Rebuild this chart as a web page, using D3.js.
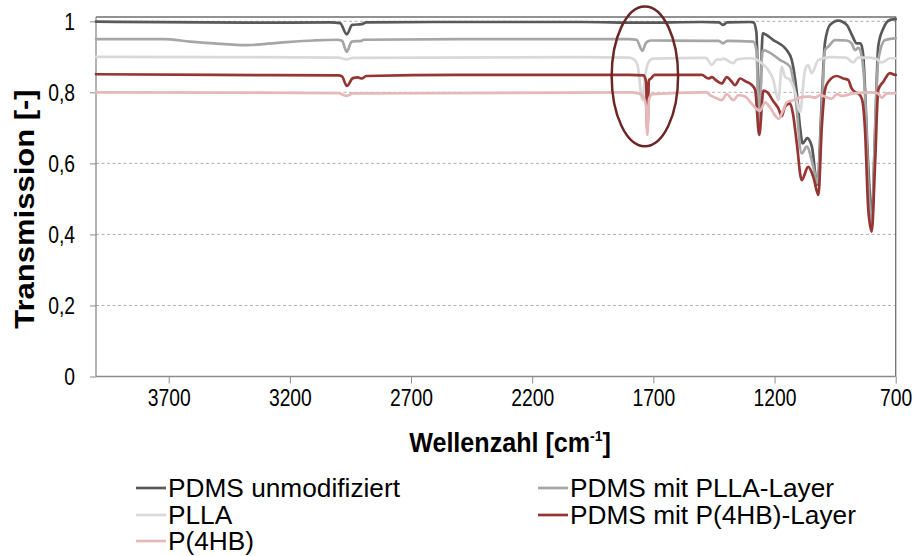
<!DOCTYPE html>
<html><head><meta charset="utf-8">
<script src="https://cdn.jsdelivr.net/npm/d3@7"></script>
<style>
html,body{margin:0;padding:0;background:#fff;}
text{font-family:"Liberation Sans",Arial,sans-serif;fill:#000;}
</style></head>
<body><svg id="chart" width="917" height="556"></svg>
<script>
// ---------- data (wavenumber [cm-1], transmission) ----------
const seriesNames = ["PDMS unmodifiziert","PDMS mit PLLA-Layer","PLLA","PDMS mit P(4HB)-Layer","P(4HB)"];
const seriesColors = ["#595959","#a6a6a6","#d9d9d9","#963634","#e6b9b8"];
const xTicks = [3700,3200,2700,2200,1700,1200,700];
const yTicks = [0,0.2,0.4,0.6,0.8,1];
const yTickLabels = ["0","0,2","0,4","0,6","0,8","1"];

const pdmsUnmod = [
 [4000,0.999],[3376,0.996],[3034,0.997],[2993,0.995],[2965,0.963],[2943,0.99],[2903,0.992],[2885,0.997],
 [2600,0.998],[2000,0.998],[1750,0.996],[1500,0.998],[1430,0.997],[1413,0.99],[1395,0.997],[1300,0.998],
 [1287,0.997],[1275,0.97],[1263,0.72],[1252,0.93],[1249,0.966],[1205,0.947],[1150,0.919],[1129,0.891],
 [1108,0.798],[1095,0.703],[1084,0.656],[1065,0.671],[1046,0.647],[1023,0.54],[1005,0.778],[992,0.939],
 [971,0.99],[937,1.002],[902,0.99],[881,0.962],[861,0.938],[845,0.938],[835,0.91],[813,0.59],[799,0.45],
 [785,0.685],[772,0.93],[751,0.98],[723,1.004],[700,1.006]
];
const pdmsPlla = [
 [4000,0.95],[3721,0.95],[3611,0.943],[3515,0.938],[3377,0.933],[3240,0.94],[3103,0.946],[3006,0.948],
 [2985,0.945],[2965,0.914],[2945,0.943],[2903,0.945],[2896,0.948],[2500,0.95],[1800,0.95],[1770,0.948],
 [1745,0.917],[1730,0.94],[1710,0.946],[1500,0.945],[1430,0.945],[1413,0.938],[1395,0.945],[1288,0.943],
 [1275,0.92],[1263,0.70],[1252,0.90],[1247,0.919],[1177,0.891],[1136,0.872],[1115,0.797],[1088,0.628],
 [1067,0.647],[1040,0.59],[1023,0.544],[1005,0.75],[992,0.919],[978,0.929],[950,0.947],[902,0.946],
 [882,0.938],[868,0.919],[854,0.925],[840,0.9],[827,0.80],[813,0.55],[799,0.42],[785,0.70],[772,0.891],
 [744,0.947],[703,0.952],[700,0.952]
];
const plla = [
 [4000,0.90],[3000,0.898],[2965,0.893],[2940,0.897],[2000,0.899],[1800,0.898],[1780,0.893],[1765,0.875],
 [1745,0.778],[1735,0.84],[1720,0.885],[1700,0.895],[1500,0.897],[1483,0.897],[1459,0.877],[1438,0.893],
 [1425,0.892],[1410,0.895],[1382,0.885],[1370,0.882],[1355,0.893],[1301,0.896],[1280,0.894],[1253,0.882],
 [1226,0.863],[1205,0.835],[1184,0.778],[1170,0.872],[1157,0.844],[1136,0.835],[1115,0.80],[1095,0.745],
 [1074,0.863],[1061,0.877],[1047,0.854],[1019,0.891],[971,0.899],[905,0.898],[875,0.884],[856,0.898],
 [806,0.898],[778,0.893],[758,0.884],[723,0.896],[700,0.896]
];
const pdmsP4hb = [
 [4000,0.851],[3500,0.849],[3000,0.848],[2985,0.845],[2965,0.818],[2940,0.84],[2920,0.842],[2903,0.839],
 [2885,0.846],[2500,0.849],[1800,0.849],[1740,0.848],[1730,0.83],[1725,0.69],[1718,0.835],[1710,0.839],
 [1695,0.849],[1500,0.849],[1473,0.839],[1458,0.843],[1438,0.832],[1418,0.825],[1397,0.843],[1379,0.832],
 [1363,0.82],[1342,0.839],[1322,0.832],[1294,0.821],[1280,0.807],[1263,0.68],[1246,0.805],[1230,0.80],
 [1205,0.775],[1184,0.755],[1170,0.733],[1157,0.76],[1136,0.769],[1124,0.74],[1108,0.656],[1088,0.553],
 [1061,0.59],[1040,0.562],[1019,0.511],[1005,0.703],[992,0.807],[978,0.83],[943,0.846],[916,0.839],
 [896,0.835],[882,0.811],[866,0.80],[854,0.797],[839,0.78],[827,0.70],[813,0.469],[799,0.408],[785,0.60],
 [772,0.807],[751,0.83],[724,0.854],[703,0.849],[700,0.849]
];
const p4hb = [
 [4000,0.80],[3000,0.798],[2965,0.79],[2940,0.797],[1800,0.80],[1760,0.797],[1740,0.785],[1730,0.76],
 [1725,0.68],[1718,0.78],[1705,0.795],[1500,0.80],[1480,0.80],[1466,0.792],[1438,0.783],[1418,0.778],
 [1397,0.795],[1370,0.778],[1349,0.792],[1322,0.788],[1294,0.768],[1280,0.757],[1260,0.748],[1239,0.772],
 [1219,0.758],[1198,0.735],[1184,0.725],[1164,0.75],[1150,0.772],[1122,0.778],[1095,0.785],[1067,0.788],
 [1054,0.788],[1033,0.785],[1012,0.792],[964,0.782],[943,0.795],[923,0.79],[875,0.797],[806,0.80],
 [773,0.797],[758,0.785],[737,0.797],[700,0.798]
];
const seriesData = [pdmsUnmod, pdmsPlla, plla, pdmsP4hb, p4hb];
// highlighted C=O band (annotation ellipse, data units)
const ellipseCenter = [1735, 0.845];
const ellipseHalf = [137, 0.197];

// ---------- layout ----------
const svg = d3.select("#chart");
const L = 96, R = 895.7, T = 17, B = 376.5;
const x = d3.scaleLinear().domain([4000,700]).range([L,R]);
const y = d3.scaleLinear().domain([0,1]).range([B,21.3]);
const tickScale = 0.84;

// gridlines
svg.append("g").selectAll("line").data(yTicks.filter(d=>d>0)).join("line")
  .attr("x1",L).attr("x2",R).attr("y1",d=>y(d)).attr("y2",d=>y(d))
  .attr("stroke","#9a9a9a").attr("stroke-width",0.8).attr("stroke-dasharray","3,2.5");

// frame top/right
svg.append("path").attr("d",`M${L},${T}H${R}V${B}`).attr("fill","none")
  .attr("stroke","#6f6f6f").attr("stroke-width",1.3);

// axes
const yAxis = d3.axisLeft(y).tickValues(yTicks).tickFormat((d,i)=>yTickLabels[i]).tickSize(6);
const gy = svg.append("g").attr("transform",`translate(${L},0)`).call(yAxis);
gy.select(".domain").attr("d",`M0,${T}V${B}`).attr("stroke","#8c8c8c").attr("stroke-width",1.3);
gy.selectAll(".tick line").attr("stroke","#8c8c8c");
gy.selectAll(".tick text").attr("font-size",23).attr("font-family","Liberation Sans, Arial, sans-serif")
  .attr("fill","#000").attr("x",-21/tickScale).attr("dy","0.35em").attr("transform",`scale(${tickScale},1)`);

const xAxis = d3.axisBottom(x).tickValues(xTicks).tickFormat(d3.format("d")).tickSize(7);
const gx = svg.append("g").attr("transform",`translate(0,${B})`).call(xAxis);
gx.select(".domain").attr("d",`M${L},0H${R}`).attr("stroke","#8c8c8c").attr("stroke-width",1.3);
gx.selectAll(".tick line").attr("stroke","#8c8c8c");
gx.selectAll(".tick text").attr("font-size",23).attr("font-family","Liberation Sans, Arial, sans-serif")
  .attr("fill","#000").attr("y",29.5).attr("dy",0).attr("transform",`scale(${tickScale},1)`);

// series
const line = d3.line().x(d=>x(d[0])).y(d=>y(d[1])).curve(d3.curveMonotoneX);
svg.append("g").selectAll("path").data(seriesData).join("path")
  .attr("d",d=>line(d.slice().sort((a,b)=>b[0]-a[0])))
  .attr("fill","none").attr("stroke",(d,i)=>seriesColors[i]).attr("stroke-width",2.7)
  .attr("stroke-linejoin","round").attr("stroke-linecap","round");

// ellipse annotation
svg.append("ellipse")
  .attr("cx",x(ellipseCenter[0])).attr("cy",y(ellipseCenter[1]))
  .attr("rx",Math.abs(x(ellipseCenter[0]+ellipseHalf[0])-x(ellipseCenter[0])))
  .attr("ry",Math.abs(y(ellipseCenter[1]+ellipseHalf[1])-y(ellipseCenter[1])))
  .attr("fill","none").attr("stroke","#6b2626").attr("stroke-width",2.5);

// axis titles
const xt = svg.append("text").attr("x",0).attr("y",0).attr("text-anchor","middle")
  .attr("font-size",27).attr("font-weight","bold").attr("transform","translate(510,452) scale(0.93,1)");
xt.append("tspan").text("Wellenzahl [cm");
xt.append("tspan").text("-1").attr("font-size",15).attr("dy",-11);
xt.append("tspan").text("]").attr("dy",11);

svg.append("text").attr("transform",`translate(34,209) rotate(-90) scale(1,0.88)`).attr("text-anchor","middle")
  .attr("font-size",31).attr("font-weight","bold").text("Transmission [-]");

// legend
const legPos = [[136,488],[538,488],[136,515],[538,515],[136,541]];
const lg = svg.append("g").selectAll("g").data(seriesNames).join("g")
  .attr("transform",(d,i)=>`translate(${legPos[i][0]},${legPos[i][1]})`);
lg.append("line").attr("x1",0).attr("x2",30).attr("y1",0).attr("y2",0)
  .attr("stroke",(d,i)=>seriesColors[i]).attr("stroke-width",2.7);
lg.append("text").attr("transform","translate(32,9) scale(1.03,1)").attr("font-size",25.5).text(d=>d);
</script></body></html>
